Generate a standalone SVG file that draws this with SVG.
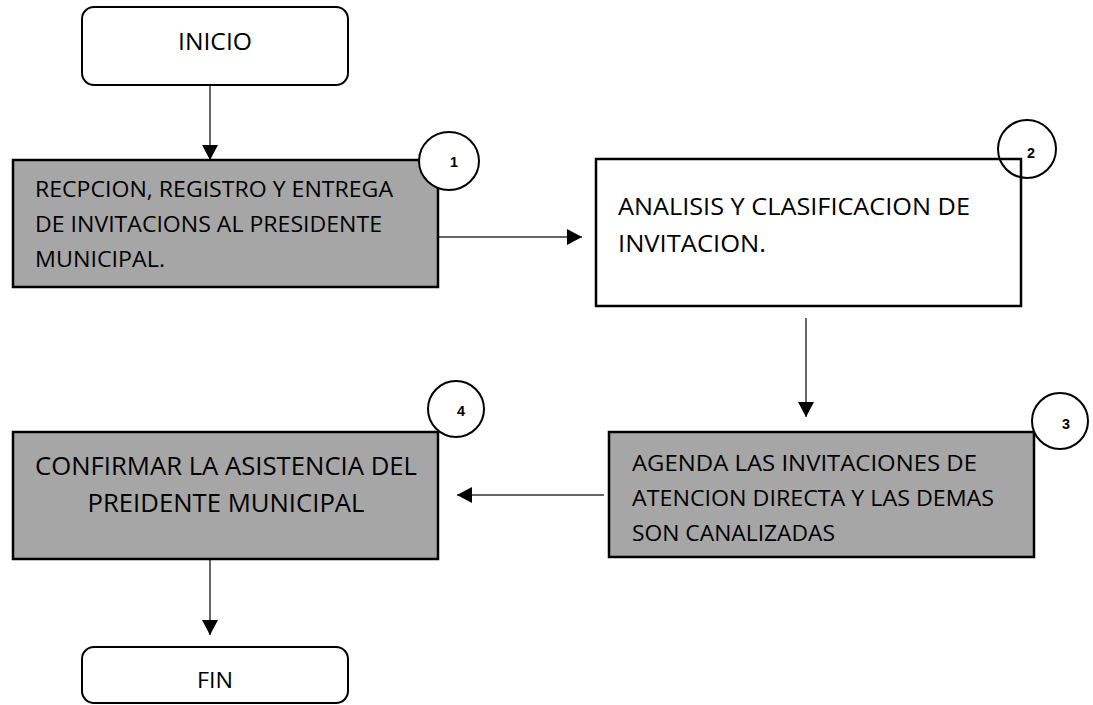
<svg xmlns="http://www.w3.org/2000/svg" width="1093" height="705" viewBox="0 0 1093 705">
<style>
.term{fill:#fff;stroke:#000;stroke-width:2}
.box{stroke:#000;stroke-width:2.5}
.gray{fill:#a6a6a6}
.white{fill:#fff}
.t{font-family:"Open Sans","Liberation Sans",sans-serif;fill:#000}
.num{font-family:"Liberation Sans",Arial,sans-serif;font-weight:bold;font-size:15px;fill:#000;text-anchor:middle}
.badge{stroke:#000;stroke-width:2}
.conn{stroke:#333;stroke-width:1.5;fill:none}
</style>
<defs>
<marker id="ah" markerUnits="userSpaceOnUse" markerWidth="16" markerHeight="16" refX="15" refY="8" orient="auto">
<path d="M0,0 L15,8 L0,16 Z" fill="#000"/>
</marker>
</defs>
<rect width="1093" height="705" fill="#fff"/>
<g id="connectors">
<line class="conn" x1="210" y1="85" x2="210" y2="160" marker-end="url(#ah)"/>
<line class="conn" x1="438" y1="237" x2="582" y2="237" marker-end="url(#ah)"/>
<line class="conn" x1="806" y1="318" x2="806" y2="417" marker-end="url(#ah)"/>
<line class="conn" x1="604" y1="495" x2="457" y2="495" marker-end="url(#ah)"/>
<line class="conn" x1="210" y1="560" x2="210" y2="635" marker-end="url(#ah)"/>
</g>
<g id="inicio">
<rect class="term" x="82" y="7" width="266" height="78" rx="12"/>
<text class="t" x="215" y="50" font-size="24" text-anchor="middle" textLength="74" lengthAdjust="spacingAndGlyphs">INICIO</text>
</g>
<g id="step1">
<rect class="box gray" x="13" y="160" width="425" height="127"/>
<text class="t" font-size="21"><tspan x="35" y="197" textLength="358" lengthAdjust="spacingAndGlyphs">RECPCION, REGISTRO Y ENTREGA</tspan><tspan x="35" y="232" textLength="347" lengthAdjust="spacingAndGlyphs">DE INVITACIONS AL PRESIDENTE</tspan><tspan x="35" y="267" textLength="130" lengthAdjust="spacingAndGlyphs">MUNICIPAL.</tspan></text>
<ellipse class="badge white" cx="449" cy="161" rx="30" ry="29"/>
<text class="num" x="454" y="167" textLength="8" lengthAdjust="spacingAndGlyphs">1</text>
</g>
<g id="step2">
<rect class="box white" x="596" y="159" width="425" height="147"/>
<text class="t" font-size="23"><tspan x="618" y="215" textLength="352" lengthAdjust="spacingAndGlyphs">ANALISIS Y CLASIFICACION DE</tspan><tspan x="618" y="252" textLength="148" lengthAdjust="spacingAndGlyphs">INVITACION.</tspan></text>
<circle class="badge" fill="none" cx="1027" cy="149" r="29"/>
<text class="num" x="1031" y="158" textLength="8" lengthAdjust="spacingAndGlyphs">2</text>
</g>
<g id="step3">
<rect class="box gray" x="609" y="432" width="425" height="125"/>
<text class="t" font-size="21"><tspan x="632" y="471" textLength="345" lengthAdjust="spacingAndGlyphs">AGENDA LAS INVITACIONES DE</tspan><tspan x="632" y="506" textLength="362" lengthAdjust="spacingAndGlyphs">ATENCION DIRECTA Y LAS DEMAS</tspan><tspan x="632" y="541" textLength="203" lengthAdjust="spacingAndGlyphs">SON CANALIZADAS</tspan></text>
<circle class="badge white" cx="1060" cy="421" r="28"/>
<text class="num" x="1066" y="429" textLength="8" lengthAdjust="spacingAndGlyphs">3</text>
</g>
<g id="step4">
<rect class="box gray" x="13" y="432" width="425" height="127"/>
<text class="t" font-size="25" text-anchor="middle"><tspan x="226" y="475" textLength="382" lengthAdjust="spacingAndGlyphs">CONFIRMAR LA ASISTENCIA DEL</tspan><tspan x="226" y="512" textLength="277" lengthAdjust="spacingAndGlyphs">PREIDENTE MUNICIPAL</tspan></text>
<circle class="badge white" cx="456" cy="409" r="28"/>
<text class="num" x="461" y="416" textLength="8" lengthAdjust="spacingAndGlyphs">4</text>
</g>
<g id="fin">
<rect class="term" x="82" y="647" width="266" height="56" rx="12"/>
<text class="t" x="215" y="688" font-size="22" text-anchor="middle" textLength="36" lengthAdjust="spacingAndGlyphs">FIN</text>
</g>
</svg>
